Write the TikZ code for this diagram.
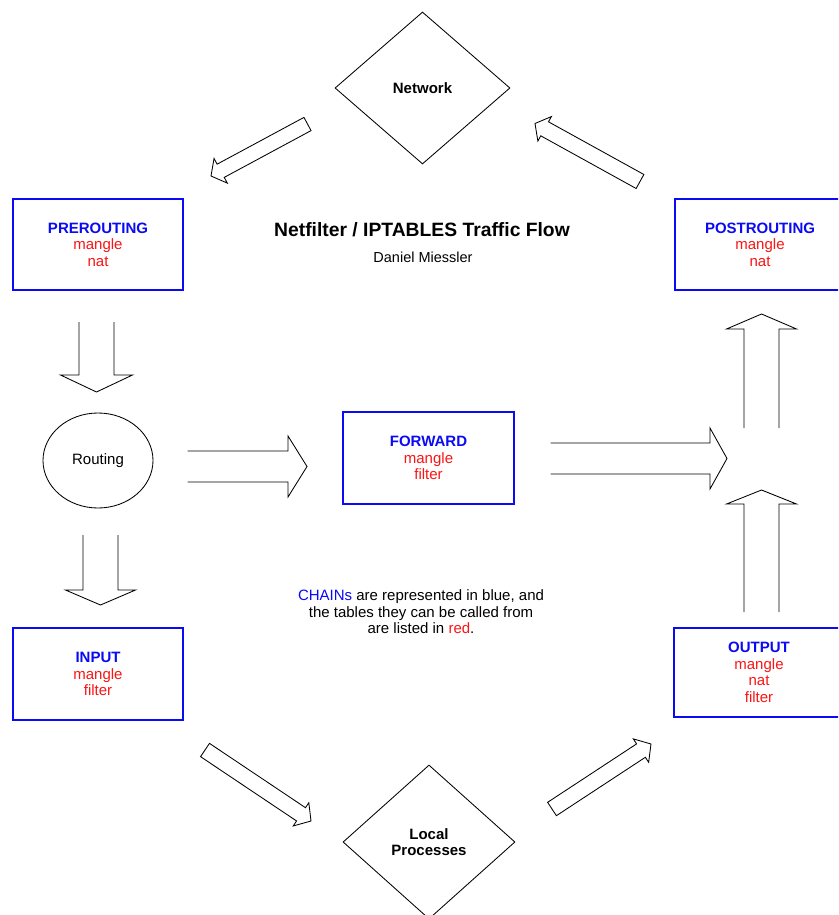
\documentclass[tikz,border=0pt]{standalone}
\usepackage{fontspec}
\setmainfont{Liberation Sans}
\usetikzlibrary{shapes.geometric,calc}
\definecolor{chainblue}{RGB}{10,10,245}
\definecolor{tablered}{RGB}{250,20,20}
% #1 tail, #2 tip, #3 shaft half width, #4 head half width, #5 head length, #6 ending
\newcommand{\blkarrow}[6]{%
  \coordinate (bah) at ($(#2)!#5!(#1)$);
  \draw[arrowline] ($(#1)!#3!90:(#2)$) -- ($(bah)!#3!90:(#2)$) -- ($(bah)!#4!90:(#2)$) -- (#2) -- ($(bah)!#4!-90:(#2)$) -- ($(bah)!#3!-90:(#2)$) -- ($(#1)!#3!-90:(#2)$) #6;}
\begin{document}
\begin{tikzpicture}[x=1pt,y=-1pt,
  arrowline/.style={draw=black, line width=0.85pt, line join=miter},
  chainbox/.style={draw=chainblue, line width=1.4pt, minimum width=170pt, minimum height=91pt, inner sep=0pt, align=center, font=\fontsize{15}{16.5}\selectfont},
  diam/.style={draw=black, line width=0.85pt, shape=diamond, inner sep=0pt, align=center, font=\fontsize{15}{16.5}\selectfont\bfseries},
  oval/.style={draw=black, line width=0.85pt, shape=ellipse, inner sep=0pt, font=\fontsize{15}{16.5}\selectfont},
  plain/.style={align=center, inner sep=0pt}
]
\useasboundingbox (0,0) rectangle (838,915);
\fill[white] (0,0) rectangle (838,915);
\clip (0,0) rectangle (838,915);

% nodes
\node[diam, minimum width=175pt, minimum height=152pt] (net) at (422.5,88) {Network};
\node[diam, minimum width=172pt, minimum height=154pt] (local) at (429,842) {Local\\Processes};
\node[oval, minimum width=110pt, minimum height=95pt] (routing) at (98,460.5) {Routing};

\node[chainbox] (pre) at (98,244.5) {\textcolor{chainblue}{\bfseries PREROUTING}\\\textcolor{tablered}{mangle}\\\textcolor{tablered}{nat}};
\node[chainbox, minimum height=92pt] (input) at (98,674) {\textcolor{chainblue}{\bfseries INPUT}\\\textcolor{tablered}{mangle}\\\textcolor{tablered}{filter}};
\node[chainbox, minimum width=171pt, minimum height=92pt] (fwd) at (428.5,458) {\textcolor{chainblue}{\bfseries FORWARD}\\\textcolor{tablered}{mangle}\\\textcolor{tablered}{filter}};
\node[chainbox] (post) at (760,244.5) {\textcolor{chainblue}{\bfseries POSTROUTING}\\\textcolor{tablered}{mangle}\\\textcolor{tablered}{nat}};
\node[chainbox, minimum height=89pt] (output) at (759,672.5) {\textcolor{chainblue}{\bfseries OUTPUT}\\\textcolor{tablered}{mangle}\\\textcolor{tablered}{nat}\\\textcolor{tablered}{filter}};

% texts
\node[plain, font=\fontsize{19.3}{21}\selectfont\bfseries] (title) at (422,230) {Netfilter / IPTABLES Traffic Flow};
\node[plain, font=\fontsize{14.5}{16}\selectfont] (author) at (423,257) {Daniel Miessler};
\node[plain, font=\fontsize{15}{16.5}\selectfont] (legend) at (421,612) {\textcolor{chainblue}{CHAINs} are represented in blue, and\\the tables they can be called from\\are listed in \textcolor{tablered}{red}.};

% arrow coordinates
\coordinate (aTail) at (96.5,322);   \coordinate (aTip) at (96.5,392);
\coordinate (bTail) at (187.5,466.5); \coordinate (bTip) at (307,466.5);
\coordinate (cTail) at (100.5,535);  \coordinate (cTip) at (100.5,605);
\coordinate (dTail) at (550.5,458.5); \coordinate (dTip) at (727,458.5);
\coordinate (eTail) at (761.5,428);  \coordinate (eTip) at (761.5,314);
\coordinate (fTail) at (761.5,612);  \coordinate (fTip) at (761.5,490);
\coordinate (gTail) at (307.5,124);  \coordinate (gTip) at (211,176);
\coordinate (hTail) at (640,181.5);  \coordinate (hTip) at (535,123.5);
\coordinate (iTail) at (205,750);    \coordinate (iTip) at (311,821);
\coordinate (jTail) at (552,809);    \coordinate (jTip) at (651,744);

% open block arrows
\blkarrow{aTail}{aTip}{17.5pt}{36pt}{17pt}{}
\blkarrow{bTail}{bTip}{15.5pt}{30.5pt}{19pt}{}
\blkarrow{cTail}{cTip}{17.5pt}{35pt}{15pt}{}
\blkarrow{dTail}{dTip}{15.5pt}{30.5pt}{17pt}{}
\blkarrow{eTail}{eTip}{17.5pt}{35pt}{15pt}{}
\blkarrow{fTail}{fTip}{17.5pt}{35pt}{14pt}{}
% closed diagonal arrows
\blkarrow{gTail}{gTip}{7.5pt}{14pt}{11pt}{-- cycle}
\blkarrow{hTail}{hTip}{8pt}{14pt}{11pt}{-- cycle}
\blkarrow{iTail}{iTip}{8pt}{14pt}{12pt}{-- cycle}
\blkarrow{jTail}{jTip}{8pt}{14pt}{12pt}{-- cycle}
\end{tikzpicture}
\end{document}
